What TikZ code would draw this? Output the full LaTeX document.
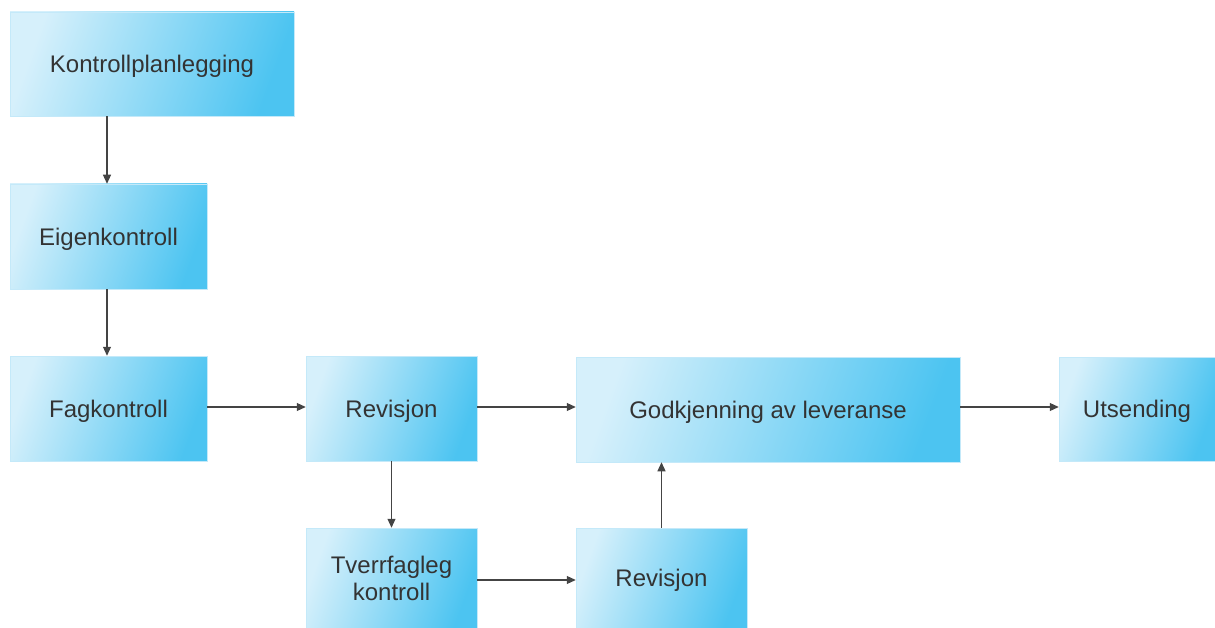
\documentclass[tikz,border=0pt]{standalone}
\usepackage{fontspec}
\setmainfont{Liberation Sans}
\usetikzlibrary{arrows.meta}
\definecolor{boxlight}{HTML}{D6F0FB}
\definecolor{boxdark}{HTML}{4CC4F1}
\definecolor{boxedge}{HTML}{C4E9F9}
\definecolor{txt}{HTML}{333333}
\definecolor{arr}{HTML}{444444}
\tikzset{
  box/.style={rectangle, draw=boxedge, line width=0.5pt, left color=boxlight, right color=boxdark, shading angle=70,
    text=txt, font=\fontsize{24}{27}\selectfont, align=center, inner sep=0pt, text depth=0pt},
  conn/.style={draw=arr, line width=1.1pt, -{Triangle[length=9pt,width=8pt]}}
}
\begin{document}
\begin{tikzpicture}[x=1pt,y=-1pt]
\useasboundingbox (0,0) rectangle (1215,628);
\node[box, minimum width=284pt, minimum height=104pt] (kp) at (152,64) {Kontrollplanlegging};
\node[box, minimum width=197pt, minimum height=105pt] (ek) at (108.5,236.5) {Eigenkontroll};
\node[box, minimum width=197pt, minimum height=105pt] (fk) at (108.5,408.5) {Fagkontroll};
\node[box, minimum width=171pt, minimum height=105pt] (r1) at (391.5,408.5) {Revisjon};
\node[box, minimum width=384pt, minimum height=105pt] (gk) at (768,409.5) {Godkjenning av leveranse};
\node[box, minimum width=156pt, minimum height=104pt] (ut) at (1137,409) {Utsending};
\node[box, minimum width=171pt, minimum height=100pt] (tk) at (391.5,578) {Tverrfagleg\\kontroll};
\node[box, minimum width=171pt, minimum height=100pt] (r2) at (661.5,578) {Revisjon};
\coordinate (a1) at (107,0);
\draw[conn] (kp.south -| a1) -- (ek.north -| a1);
\draw[conn] (ek.south -| a1) -- (fk.north -| a1);
\coordinate (h1) at (0,407);
\draw[conn] (fk.east |- h1) -- (r1.west |- h1);
\draw[conn] (r1.east |- h1) -- (gk.west |- h1);
\draw[conn] (gk.east |- h1) -- (ut.west |- h1);
\draw[conn] (r1.south) -- (tk.north);
\coordinate (h2) at (0,580);
\draw[conn] (tk.east |- h2) -- (r2.west |- h2);
\draw[conn] (r2.north) -- (gk.south -| r2.north);
\end{tikzpicture}
\end{document}
